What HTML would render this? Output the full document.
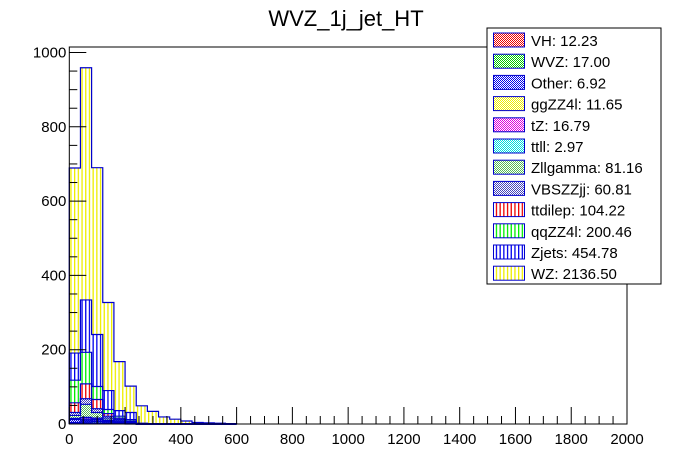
<!DOCTYPE html>
<html><head><meta charset="utf-8"><style>
body{margin:0;background:#fff;}
svg{display:block;font-family:"Liberation Sans",sans-serif;}
</style></head><body>
<svg id="chart" width="696" height="472">
<defs></defs>
<text x="346" y="26" font-size="22" text-anchor="middle">WVZ_1j_jet_HT</text>
<g id="bars"></g>
<g id="outlines"></g>
<g id="axes"></g>
<g id="legend"></g>
</svg>
<script>
const NS="http://www.w3.org/2000/svg";
const binWidth=40;
const seriesNames=["VH","WVZ","Other","ggZZ4l","tZ","ttll","Zllgamma","VBSZZjj","ttdilep","qqZZ4l","Zjets","WZ"];
const legendValues=["12.23","17.00","6.92","11.65","16.79","2.97","81.16","60.81","104.22","200.46","454.78","2136.50"];
const vhVals=[2,3,3,2,1,0];
const wvzVals=[2,3,4,3,2,1];
const otherVals=[8,4,4,2,1,0];
const ggzzVals=[1,3,2,1,1,0];
const tzVals=[2,4,3,2,1,0];
const ttllVals=[0,1,0,0,0,0];
const zllgVals=[8,35,15,6,4,3];
const vbsVals=[8,15,10,5,3,2];
const ttdVals=[26,40,25,7,3,2];
const qqzzVals=[61,85,35,11,5,4];
const zjetsVals=[73,141,140,51,15,19,2,1];
const wzVals=[498,625,449,237,132,71,47,33,19,13,8,4,3,2,1];
const allVals=[vhVals,wvzVals,otherVals,ggzzVals,tzVals,ttllVals,zllgVals,vbsVals,ttdVals,qqzzVals,zjetsVals,wzVals];
const colors=["#e00","#0c0","#00e","#ee0","#d0d","#0dd","#5b5","#44b","#e00","#0e0","#00e","#ee0"];
const hatch=[0,0,0,0,0,0,0,0,1,1,1,1];
const xTicks=[0,200,400,600,800,1000,1200,1400,1600,1800,2000];
const yTicks=[0,200,400,600,800,1000];
const X0=69.3,X1=627,Y0=424,YT=47;
const xs=v=>X0+v*(X1-X0)/2000;
const ys=v=>Y0-v*0.3715;
const svg=document.getElementById('chart');
const defs=svg.querySelector('defs');
function el(t,a,p){const e=document.createElementNS(NS,t);for(const k in a)e.setAttribute(k,a[k]);p.appendChild(e);return e;}
colors.forEach((c,i)=>{
  const p=el('pattern',{id:'p'+i,patternUnits:'userSpaceOnUse',width:hatch[i]?3.7:2,height:hatch[i]?10:2},defs);
  el('rect',{width:10,height:10,fill:'#fff'},p);
  if(hatch[i]) el('rect',{x:0,y:0,width:1.3,height:10,fill:c},p);
  else {el('rect',{x:0,y:0,width:1,height:1,fill:c},p);el('rect',{x:1,y:1,width:1,height:1,fill:c},p);}
});
const bars=document.getElementById('bars');
const outl=document.getElementById('outlines');
const nb=Math.max(...allVals.map(a=>a.length));
const cum=new Array(nb).fill(0);
allVals.forEach((vals,si)=>{
  for(let b=0;b<nb;b++){
    const v=vals[b]||0;
    if(v>0){
      const r=el('rect',{x:xs(b*binWidth),y:ys(cum[b]+v),width:xs(binWidth)-xs(0),height:ys(cum[b])-ys(cum[b]+v),fill:'url(#p'+si+')'},bars);
      
      
    }
    cum[b]+=v;
  }
  let d='M'+xs(0)+','+Y0;
  for(let b=0;b<nb;b++){d+=' L'+xs(b*binWidth)+','+ys(cum[b])+' L'+xs((b+1)*binWidth)+','+ys(cum[b]);}
  d+=' L'+xs(nb*binWidth)+','+Y0;
  const p=el('path',{d:d,fill:'none',stroke:'#00c','stroke-width':1.2},outl);
  
  
});
const ax=document.getElementById('axes');
const fr=el('rect',{x:X0,y:YT,width:X1-X0,height:Y0-YT,fill:'none',stroke:'#000','stroke-width':1},ax);


for(let v=0;v<=2000;v+=50){const big=v%200===0;el('line',{x1:xs(v),x2:xs(v),y1:Y0,y2:Y0-(big?17:8),stroke:'#000'},ax);}
for(let v=0;v<=1060;v+=50){if(ys(v)<YT)break;const big=v%200===0;el('line',{x1:X0,x2:X0+(big?17:8),y1:ys(v),y2:ys(v),stroke:'#000'},ax);}
xTicks.forEach(v=>{const t=el('text',{x:xs(v),y:Y0+20,'font-size':15,'text-anchor':'middle'},ax);t.textContent=v;

});
yTicks.forEach(v=>{const t=el('text',{x:X0-3,y:ys(v)+5,'font-size':15,'text-anchor':'end'},ax);t.textContent=v;

});
const lg=document.getElementById('legend');
const lb=el('rect',{x:487,y:28,width:174,height:256,fill:'#fff',stroke:'#000'},lg);


seriesNames.forEach((n,i)=>{
  const y=33+i*21.2;
  const s=el('rect',{x:493.5,y:y,width:31,height:14,fill:'url(#p'+i+')',stroke:'#00c'},lg);
  
  
  const t=el('text',{x:531,y:y+13,'font-size':15},lg);t.textContent=n+': '+legendValues[i];
  
  
});
</script>
</body></html>
